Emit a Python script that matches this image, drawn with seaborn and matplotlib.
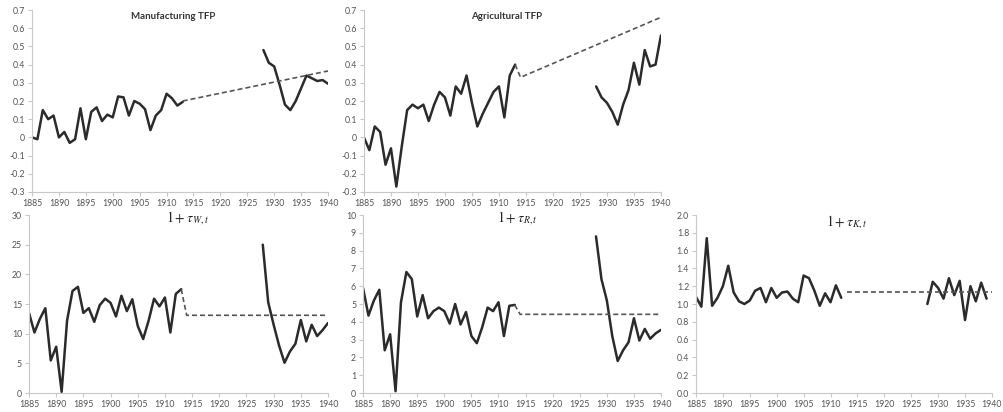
import numpy as np
import pandas as pd
import matplotlib
matplotlib.use("Agg")
import matplotlib.pyplot as plt
import seaborn as sns
from matplotlib.ticker import MultipleLocator, FormatStrFormatter

# years of the two observed periods
years_pre = list(range(1885, 1914))      # 1885-1913
years_post = list(range(1928, 1941))     # 1928-1940
years_pre_k = list(range(1885, 1913))    # 1885-1912
years_post_k = list(range(1928, 1940))   # 1928-1939

# Manufacturing TFP
mfg_pre = [0.0, -0.01, 0.15, 0.10, 0.12, 0.0, 0.03, -0.03, -0.01, 0.16,
           -0.01, 0.14, 0.165, 0.09, 0.125, 0.11, 0.225, 0.22, 0.12, 0.20,
           0.185, 0.155, 0.04, 0.12, 0.15, 0.24, 0.215, 0.175, 0.195]
mfg_post = [0.48, 0.41, 0.39, 0.29, 0.18, 0.15, 0.20, 0.27, 0.34, 0.325,
            0.31, 0.315, 0.295]
mfg_trend_x = [1913, 1940]
mfg_trend_y = [0.20, 0.365]

# Agricultural TFP
agr_pre = [0.0, -0.07, 0.06, 0.03, -0.15, -0.06, -0.27, -0.05, 0.15, 0.18,
           0.16, 0.18, 0.09, 0.18, 0.25, 0.22, 0.12, 0.28, 0.24, 0.34,
           0.19, 0.06, 0.13, 0.19, 0.25, 0.28, 0.11, 0.34, 0.40]
agr_post = [0.28, 0.22, 0.19, 0.14, 0.07, 0.18, 0.26, 0.41, 0.29, 0.48,
            0.39, 0.40, 0.56]
agr_trend_x = [1913, 1914, 1940]
agr_trend_y = [0.40, 0.33, 0.66]

# 1 + tau_W
tw_pre = [13.5, 10.2, 12.5, 14.3, 5.5, 7.8, 0.2, 12.2, 17.2, 17.9,
          13.5, 14.3, 12.0, 14.8, 15.9, 15.2, 12.9, 16.4, 13.8, 15.8,
          11.3, 9.1, 12.2, 15.9, 14.6, 16.1, 10.2, 16.7, 17.5]
tw_post = [25.0, 15.3, 11.5, 8.0, 5.1, 7.0, 8.3, 12.3, 8.7, 11.5,
           9.6, 10.6, 11.8]
tw_trend_x = [1913, 1914, 1940]
tw_trend_y = [17.5, 13.1, 13.1]

# 1 + tau_R
tr_pre = [5.9, 4.35, 5.2, 5.8, 2.4, 3.3, 0.1, 5.1, 6.8, 6.4,
          4.3, 5.5, 4.2, 4.6, 4.8, 4.6, 3.9, 5.0, 3.85, 4.55,
          3.2, 2.8, 3.7, 4.8, 4.6, 5.1, 3.2, 4.9, 4.95]
tr_post = [8.8, 6.4, 5.2, 3.2, 1.8, 2.4, 2.85, 4.2, 2.95, 3.6,
           3.05, 3.35, 3.55]
tr_trend_x = [1913, 1914, 1940]
tr_trend_y = [4.95, 4.42, 4.42]

# 1 + tau_K
tk_pre = [1.08, 0.97, 1.74, 0.98, 1.07, 1.20, 1.43, 1.13, 1.03, 1.00,
          1.04, 1.15, 1.18, 1.02, 1.18, 1.07, 1.13, 1.14, 1.06, 1.02,
          1.32, 1.29, 1.15, 0.98, 1.12, 1.02, 1.21, 1.07]
tk_post = [1.00, 1.25, 1.18, 1.06, 1.29, 1.10, 1.26, 0.82, 1.20, 1.03,
           1.24, 1.06]
tk_trend_x = [1913, 1940]
tk_trend_y = [1.13, 1.13]

sns.set_theme(style="white")
plt.rcParams['font.family'] = ['Lato', 'DejaVu Sans']
plt.rcParams['mathtext.fontset'] = 'stix'

fig = plt.figure(figsize=(10.04, 4.12), dpi=100)

line_kw = dict(color='#2b2b2b', linewidth=1.8)
dash_kw = dict(color='#555555', linewidth=1.2, linestyle=(0, (3, 1.8)))


def panel(rect, pre_x, pre_y, post_x, post_y, tr_x, tr_y, ylim, step, fmt):
    ax = fig.add_axes(rect)
    sns.lineplot(x=pre_x, y=pre_y, ax=ax, **line_kw)
    sns.lineplot(x=post_x, y=post_y, ax=ax, **line_kw)
    sns.lineplot(x=tr_x, y=tr_y, ax=ax, **dash_kw)
    ax.set_xlim(1885, 1940)
    ax.set_ylim(*ylim)
    ax.xaxis.set_major_locator(MultipleLocator(5))
    ax.yaxis.set_major_locator(MultipleLocator(step))
    ax.yaxis.set_major_formatter(fmt)
    for s in ['top', 'right']:
        ax.spines[s].set_visible(False)
    for s in ['left', 'bottom']:
        ax.spines[s].set_color('#c8c8c8')
        ax.spines[s].set_linewidth(0.8)
    ax.tick_params(axis='both', which='major', labelsize=6.3, colors='#c8c8c8',
                   labelcolor='#555555', length=3, width=0.8, direction='out',
                   pad=2, bottom=True, left=True)
    ax.set_xlabel('')
    ax.set_ylabel('')
    return ax


def tfp_fmt(v, pos):
    if abs(v) < 1e-9:
        return '0'
    return f'{v:.1f}'


ax1 = panel([0.0319, 0.534, 0.2948, 0.4417], years_pre, mfg_pre, years_post, mfg_post,
            mfg_trend_x, mfg_trend_y, (-0.3, 0.7), 0.1, plt.FuncFormatter(tfp_fmt))
ax1.text(0.476, 0.965, 'Manufacturing TFP', transform=ax1.transAxes, ha='center',
         va='center', fontsize=7, fontweight='bold', color='#333333')

ax2 = panel([0.3625, 0.534, 0.2958, 0.4417], years_pre, agr_pre, years_post, agr_post,
            agr_trend_x, agr_trend_y, (-0.3, 0.7), 0.1, plt.FuncFormatter(tfp_fmt))
ax2.text(0.48, 0.965, 'Agricultural TFP', transform=ax2.transAxes, ha='center',
         va='center', fontsize=7, fontweight='bold', color='#333333')

ax3 = panel([0.0289, 0.0461, 0.2978, 0.432], years_pre, tw_pre, years_post, tw_post,
            tw_trend_x, tw_trend_y, (0, 30), 5, FormatStrFormatter('%d'))
ax3.text(0.53, 0.985, r'$1+\tau_{W,t}$', transform=ax3.transAxes, ha='center',
         va='center', fontsize=10, color='#222222')

ax4 = panel([0.3616, 0.0461, 0.2968, 0.432], years_pre, tr_pre, years_post, tr_post,
            tr_trend_x, tr_trend_y, (0, 10), 1, FormatStrFormatter('%d'))
ax4.text(0.517, 0.985, r'$1+\tau_{R,t}$', transform=ax4.transAxes, ha='center',
         va='center', fontsize=10, color='#222222')

ax5 = panel([0.6932, 0.0461, 0.2948, 0.432], years_pre_k, tk_pre, years_post_k, tk_post,
            tk_trend_x, tk_trend_y, (0, 2.0), 0.2, FormatStrFormatter('%.1f'))
ax5.text(0.51, 0.96, r'$1+\tau_{K,t}$', transform=ax5.transAxes, ha='center',
         va='center', fontsize=10, color='#222222')

fig.savefig('out.png', dpi=100)
